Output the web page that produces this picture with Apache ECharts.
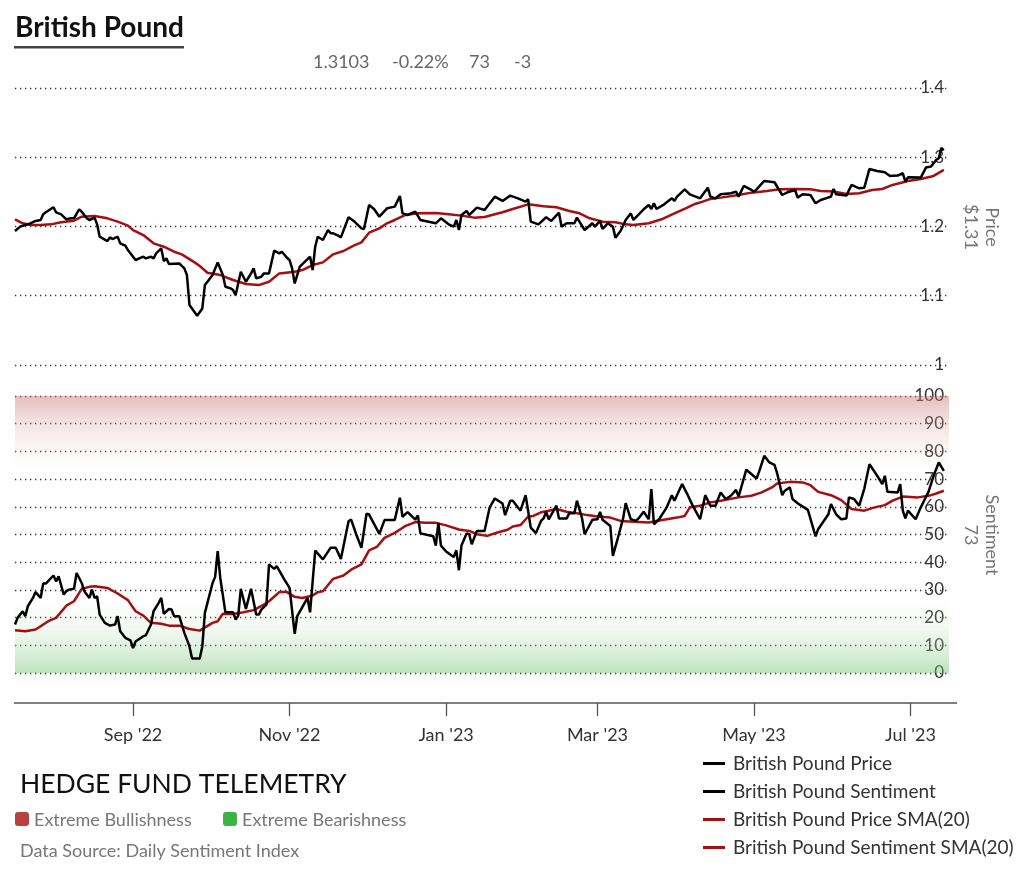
<!DOCTYPE html>
<html><head><meta charset="utf-8">
<script src="https://cdn.jsdelivr.net/npm/echarts@6/dist/echarts.min.js"></script>
<style>html,body{margin:0;padding:0;background:#fff}#c{width:1024px;height:878px}</style>
</head><body><div id="c"></div>
<script>
const titleText = 'British Pound';
const statValues = ['1.3103', '-0.22%', '73', '-3'];
const xTickDates = ['2022-09-01','2022-11-01','2023-01-01','2023-03-01','2023-05-01','2023-07-01'];
const monthNames = ['Jan','Feb','Mar','Apr','May','Jun','Jul','Aug','Sep','Oct','Nov','Dec'];
const seriesNames = ['British Pound Price','British Pound Sentiment','British Pound Price SMA(20)','British Pound Sentiment SMA(20)'];

const pricePrice = [['2022-07-17',1.1935],['2022-07-19',1.1998],['2022-07-21',1.2022],['2022-07-23',1.2046],['2022-07-25',1.2080],['2022-07-27',1.2094],['2022-07-28',1.2176],['2022-07-29',1.2205],['2022-08-01',1.2278],['2022-08-02',1.2205],['2022-08-04',1.2176],['2022-08-06',1.2104],['2022-08-08',1.2118],['2022-08-09',1.2118],['2022-08-11',1.2248],['2022-08-12',1.2214],['2022-08-14',1.2118],['2022-08-15',1.2094],['2022-08-17',1.2128],['2022-08-18',1.2031],['2022-08-19',1.1853],['2022-08-22',1.1790],['2022-08-23',1.1843],['2022-08-24',1.1819],['2022-08-26',1.1853],['2022-08-27',1.1757],['2022-08-29',1.1723],['2022-08-30',1.1660],['2022-09-01',1.1564],['2022-09-02',1.1516],['2022-09-05',1.1564],['2022-09-06',1.1540],['2022-09-08',1.1564],['2022-09-09',1.1540],['2022-09-10',1.1612],['2022-09-12',1.1684],['2022-09-13',1.1501],['2022-09-14',1.1540],['2022-09-15',1.1458],['2022-09-19',1.1467],['2022-09-21',1.1395],['2022-09-22',1.1299],['2022-09-23',1.0865],['2022-09-26',1.0711],['2022-09-28',1.0817],['2022-09-29',1.1154],['2022-09-30',1.1202],['2022-10-02',1.1299],['2022-10-04',1.1482],['2022-10-06',1.1299],['2022-10-07',1.1130],['2022-10-09',1.1106],['2022-10-10',1.1082],['2022-10-11',1.1010],['2022-10-13',1.1347],['2022-10-15',1.1202],['2022-10-17',1.1323],['2022-10-18',1.1395],['2022-10-19',1.1251],['2022-10-21',1.1275],['2022-10-22',1.1323],['2022-10-24',1.1323],['2022-10-26',1.1651],['2022-10-28',1.1612],['2022-10-29',1.1636],['2022-10-31',1.1549],['2022-11-01',1.1516],['2022-11-02',1.1395],['2022-11-03',1.1178],['2022-11-05',1.1419],['2022-11-07',1.1492],['2022-11-09',1.1564],['2022-11-10',1.1371],['2022-11-11',1.1708],['2022-11-12',1.1853],['2022-11-14',1.1805],['2022-11-16',1.1949],['2022-11-17',1.1901],['2022-11-18',1.1901],['2022-11-20',1.1867],['2022-11-21',1.1843],['2022-11-24',1.2133],['2022-11-26',1.2080],['2022-11-29',1.1973],['2022-11-30',1.1964],['2022-12-02',1.2311],['2022-12-04',1.2248],['2022-12-06',1.2142],['2022-12-09',1.2263],['2022-12-12',1.2287],['2022-12-14',1.2441],['2022-12-15',1.2190],['2022-12-17',1.2166],['2022-12-20',1.2214],['2022-12-22',1.2094],['2022-12-28',1.2046],['2022-12-30',1.2118],['2023-01-02',1.2031],['2023-01-04',1.1998],['2023-01-05',1.2094],['2023-01-06',1.1949],['2023-01-07',1.2166],['2023-01-09',1.2224],['2023-01-10',1.2166],['2023-01-13',1.2272],['2023-01-16',1.2239],['2023-01-20',1.2431],['2023-01-23',1.2369],['2023-01-26',1.2446],['2023-01-29',1.2407],['2023-02-01',1.2359],['2023-02-02',1.2393],['2023-02-03',1.2070],['2023-02-06',1.2031],['2023-02-09',1.2133],['2023-02-11',1.2080],['2023-02-14',1.2200],['2023-02-15',1.1998],['2023-02-17',1.2046],['2023-02-20',1.2046],['2023-02-21',1.2128],['2023-02-24',1.1949],['2023-02-27',1.2046],['2023-02-28',1.1998],['2023-03-02',1.2080],['2023-03-03',1.1964],['2023-03-05',1.2046],['2023-03-07',1.1998],['2023-03-08',1.1839],['2023-03-10',1.1935],['2023-03-12',1.2094],['2023-03-14',1.2190],['2023-03-15',1.2094],['2023-03-19',1.2248],['2023-03-21',1.2311],['2023-03-22',1.2253],['2023-03-23',1.2335],['2023-03-24',1.2253],['2023-03-27',1.2320],['2023-03-30',1.2407],['2023-03-31',1.2369],['2023-04-01',1.2431],['2023-04-04',1.2537],['2023-04-06',1.2465],['2023-04-10',1.2407],['2023-04-13',1.2561],['2023-04-14',1.2431],['2023-04-16',1.2407],['2023-04-18',1.2465],['2023-04-22',1.2480],['2023-04-24',1.2504],['2023-04-25',1.2431],['2023-04-27',1.2586],['2023-04-30',1.2528],['2023-05-01',1.2504],['2023-05-02',1.2537],['2023-05-05',1.2658],['2023-05-09',1.2639],['2023-05-12',1.2455],['2023-05-14',1.2494],['2023-05-17',1.2528],['2023-05-18',1.2417],['2023-05-20',1.2465],['2023-05-23',1.2455],['2023-05-25',1.2335],['2023-05-27',1.2383],['2023-05-31',1.2431],['2023-06-01',1.2542],['2023-06-02',1.2465],['2023-06-06',1.2446],['2023-06-08',1.2600],['2023-06-11',1.2552],['2023-06-13',1.2561],['2023-06-15',1.2831],['2023-06-18',1.2802],['2023-06-21',1.2783],['2023-06-23',1.2730],['2023-06-26',1.2735],['2023-06-28',1.2769],['2023-06-29',1.2648],['2023-06-30',1.2711],['2023-07-05',1.2706],['2023-07-07',1.2851],['2023-07-09',1.2865],['2023-07-11',1.2961],['2023-07-12',1.2986],['2023-07-13',1.3132],['2023-07-14',1.3103]];

const priceSma = [['2022-07-17',1.2104],['2022-07-20',1.2046],['2022-07-23',1.2022],['2022-07-27',1.2022],['2022-07-31',1.2031],['2022-08-04',1.2060],['2022-08-09',1.2084],['2022-08-12',1.2142],['2022-08-17',1.2152],['2022-08-22',1.2118],['2022-08-26',1.2070],['2022-08-30',1.2012],['2022-09-01',1.1949],['2022-09-05',1.1877],['2022-09-09',1.1757],['2022-09-13',1.1708],['2022-09-17',1.1636],['2022-09-20',1.1598],['2022-09-25',1.1482],['2022-09-27',1.1429],['2022-09-30',1.1333],['2022-10-05',1.1299],['2022-10-10',1.1227],['2022-10-15',1.1169],['2022-10-20',1.1154],['2022-10-24',1.1202],['2022-10-28',1.1323],['2022-11-03',1.1347],['2022-11-06',1.1371],['2022-11-10',1.1443],['2022-11-14',1.1482],['2022-11-18',1.1598],['2022-11-22',1.1646],['2022-11-26',1.1723],['2022-11-29',1.1771],['2022-12-02',1.1911],['2022-12-06',1.1973],['2022-12-09',1.2046],['2022-12-12',1.2094],['2022-12-16',1.2166],['2022-12-21',1.2190],['2022-12-28',1.2195],['2023-01-02',1.2176],['2023-01-07',1.2157],['2023-01-12',1.2128],['2023-01-16',1.2137],['2023-01-20',1.2176],['2023-01-23',1.2205],['2023-01-27',1.2253],['2023-02-02',1.2320],['2023-02-08',1.2292],['2023-02-13',1.2277],['2023-02-18',1.2224],['2023-02-22',1.2190],['2023-02-26',1.2118],['2023-03-03',1.2070],['2023-03-08',1.2060],['2023-03-12',1.2031],['2023-03-15',1.2022],['2023-03-21',1.2046],['2023-03-26',1.2104],['2023-03-31',1.2190],['2023-04-05',1.2272],['2023-04-08',1.2325],['2023-04-11',1.2359],['2023-04-14',1.2398],['2023-04-18',1.2417],['2023-04-25',1.2455],['2023-04-30',1.2489],['2023-05-06',1.2513],['2023-05-11',1.2537],['2023-05-17',1.2542],['2023-05-23',1.2537],['2023-05-27',1.2513],['2023-06-01',1.2504],['2023-06-06',1.2470],['2023-06-11',1.2480],['2023-06-16',1.2528],['2023-06-20',1.2542],['2023-06-24',1.2600],['2023-06-30',1.2658],['2023-07-05',1.2687],['2023-07-10',1.2730],['2023-07-14',1.2817]];

const sentiment = [['2022-07-17',17.5],['2022-07-18',19.9],['2022-07-20',22.3],['2022-07-21',20.5],['2022-07-22',24.1],['2022-07-24',27.1],['2022-07-25',29.2],['2022-07-27',27.1],['2022-07-28',32.3],['2022-07-29',32.3],['2022-08-01',35.2],['2022-08-02',33.1],['2022-08-03',34.9],['2022-08-05',28.3],['2022-08-06',29.5],['2022-08-07',30.1],['2022-08-09',30.4],['2022-08-10',36.1],['2022-08-12',32.5],['2022-08-13',29.5],['2022-08-15',27.1],['2022-08-16',30.1],['2022-08-17',27.1],['2022-08-18',27.7],['2022-08-19',21.1],['2022-08-21',18.1],['2022-08-23',17.1],['2022-08-25',17.5],['2022-08-26',20.5],['2022-08-27',15.1],['2022-08-29',12.7],['2022-08-31',11.8],['2022-09-01',9.0],['2022-09-02',11.4],['2022-09-05',13.3],['2022-09-06',13.6],['2022-09-08',17.5],['2022-09-09',22.3],['2022-09-11',25.3],['2022-09-12',27.1],['2022-09-13',21.4],['2022-09-15',23.1],['2022-09-16',22.9],['2022-09-17',20.5],['2022-09-19',20.5],['2022-09-21',14.5],['2022-09-23',9.6],['2022-09-24',5.2],['2022-09-27',5.2],['2022-09-28',9.6],['2022-09-29',21.7],['2022-09-30',25.3],['2022-10-02',32.5],['2022-10-03',34.7],['2022-10-04',44.0],['2022-10-05',34.3],['2022-10-07',21.9],['2022-10-10',21.9],['2022-10-11',19.3],['2022-10-12',20.7],['2022-10-13',30.4],['2022-10-15',23.1],['2022-10-17',30.4],['2022-10-19',21.1],['2022-10-20',21.1],['2022-10-21',22.9],['2022-10-23',24.7],['2022-10-24',39.2],['2022-10-26',37.6],['2022-10-27',38.6],['2022-10-30',33.7],['2022-11-01',30.7],['2022-11-03',14.1],['2022-11-04',20.5],['2022-11-08',27.1],['2022-11-09',21.9],['2022-11-11',44.2],['2022-11-14',41.0],['2022-11-17',45.2],['2022-11-19',45.2],['2022-11-21',41.2],['2022-11-24',54.8],['2022-11-25',55.4],['2022-11-27',50.0],['2022-11-29',45.2],['2022-12-01',57.5],['2022-12-02',57.2],['2022-12-06',50.2],['2022-12-08',55.2],['2022-12-12',55.2],['2022-12-13',59.3],['2022-12-14',63.3],['2022-12-15',56.4],['2022-12-17',58.1],['2022-12-20',55.4],['2022-12-21',56.9],['2022-12-22',50.4],['2022-12-27',49.4],['2022-12-28',46.0],['2022-12-29',54.2],['2022-12-30',46.0],['2023-01-01',43.9],['2023-01-04',41.9],['2023-01-05',44.3],['2023-01-06',37.1],['2023-01-07',46.0],['2023-01-09',50.4],['2023-01-10',50.1],['2023-01-11',46.5],['2023-01-13',51.3],['2023-01-16',51.3],['2023-01-18',59.8],['2023-01-20',63.0],['2023-01-23',61.2],['2023-01-24',57.0],['2023-01-26',62.2],['2023-01-27',62.2],['2023-01-30',58.6],['2023-02-01',64.2],['2023-02-03',52.5],['2023-02-05',50.5],['2023-02-07',54.9],['2023-02-08',55.8],['2023-02-09',58.2],['2023-02-10',55.5],['2023-02-13',60.4],['2023-02-14',55.8],['2023-02-17',55.8],['2023-02-18',57.7],['2023-02-20',57.7],['2023-02-21',62.2],['2023-02-23',55.8],['2023-02-24',50.1],['2023-02-27',55.3],['2023-03-01',55.5],['2023-03-02',58.2],['2023-03-03',55.3],['2023-03-06',53.1],['2023-03-07',42.3],['2023-03-09',48.9],['2023-03-11',55.8],['2023-03-12',61.3],['2023-03-14',55.5],['2023-03-16',54.9],['2023-03-17',55.8],['2023-03-19',58.2],['2023-03-21',55.5],['2023-03-22',66.4],['2023-03-23',53.7],['2023-03-25',55.5],['2023-03-28',59.8],['2023-03-30',64.2],['2023-03-31',62.2],['2023-04-03',68.2],['2023-04-05',64.6],['2023-04-07',60.6],['2023-04-10',55.5],['2023-04-12',64.2],['2023-04-14',60.4],['2023-04-16',60.4],['2023-04-18',65.2],['2023-04-20',62.8],['2023-04-22',64.0],['2023-04-24',66.1],['2023-04-25',63.7],['2023-04-28',73.4],['2023-05-02',70.2],['2023-05-03',72.7],['2023-05-05',78.4],['2023-05-07',76.0],['2023-05-09',75.1],['2023-05-10',72.2],['2023-05-12',64.2],['2023-05-13',65.8],['2023-05-15',67.0],['2023-05-16',62.8],['2023-05-18',61.3],['2023-05-22',58.9],['2023-05-25',49.3],['2023-05-26',51.9],['2023-05-30',57.3],['2023-05-31',61.0],['2023-06-02',57.3],['2023-06-04',55.5],['2023-06-06',55.8],['2023-06-07',63.4],['2023-06-09',62.8],['2023-06-11',60.4],['2023-06-13',66.6],['2023-06-15',75.4],['2023-06-18',71.2],['2023-06-20',68.2],['2023-06-21',71.2],['2023-06-22',65.4],['2023-06-26',65.2],['2023-06-27',68.2],['2023-06-28',58.6],['2023-06-29',55.8],['2023-06-30',58.6],['2023-07-03',55.5],['2023-07-05',59.8],['2023-07-08',65.4],['2023-07-10',71.2],['2023-07-12',76.0],['2023-07-14',73]];

const sentimentSma = [['2022-07-17',15.4],['2022-07-21',15.1],['2022-07-25',15.7],['2022-07-30',18.7],['2022-08-02',19.9],['2022-08-06',24.3],['2022-08-09',25.9],['2022-08-12',30.4],['2022-08-15',31.1],['2022-08-17',31.3],['2022-08-22',30.7],['2022-08-26',28.7],['2022-08-30',26.3],['2022-09-02',22.3],['2022-09-05',20.7],['2022-09-08',18.1],['2022-09-12',17.8],['2022-09-15',17.1],['2022-09-19',17.1],['2022-09-23',15.9],['2022-09-27',15.3],['2022-10-02',18.1],['2022-10-04',18.7],['2022-10-06',21.4],['2022-10-10',21.3],['2022-10-14',21.9],['2022-10-18',22.7],['2022-10-22',24.7],['2022-10-24',25.9],['2022-10-28',29.2],['2022-10-31',29.2],['2022-11-03',27.5],['2022-11-06',27.1],['2022-11-10',28.0],['2022-11-12',29.2],['2022-11-14',29.5],['2022-11-18',34.0],['2022-11-22',35.2],['2022-11-25',37.3],['2022-11-29',39.2],['2022-12-02',44.3],['2022-12-05',45.5],['2022-12-08',48.8],['2022-12-12',50.6],['2022-12-16',53.0],['2022-12-20',54.5],['2022-12-24',54.2],['2022-12-28',54.2],['2023-01-01',53.3],['2023-01-06',51.8],['2023-01-10',51.3],['2023-01-13',50.1],['2023-01-17',49.5],['2023-01-21',50.7],['2023-01-25',51.7],['2023-01-27',52.9],['2023-01-30',53.4],['2023-02-02',56.5],['2023-02-04',56.7],['2023-02-07',58.0],['2023-02-10',58.6],['2023-02-13',59.2],['2023-02-17',58.2],['2023-02-21',57.7],['2023-02-25',57.0],['2023-03-01',56.5],['2023-03-06',56.1],['2023-03-10',54.9],['2023-03-15',54.6],['2023-03-21',54.3],['2023-03-24',54.9],['2023-03-28',55.5],['2023-04-01',56.1],['2023-04-04',56.7],['2023-04-06',59.8],['2023-04-10',60.4],['2023-04-14',61.6],['2023-04-18',62.2],['2023-04-25',63.4],['2023-04-30',64.0],['2023-05-04',65.2],['2023-05-08',67.0],['2023-05-10',68.4],['2023-05-15',69.0],['2023-05-20',68.8],['2023-05-23',67.8],['2023-05-26',65.4],['2023-05-31',64.2],['2023-06-04',62.4],['2023-06-08',59.2],['2023-06-13',58.6],['2023-06-17',59.8],['2023-06-21',60.6],['2023-06-24',62.2],['2023-06-28',63.7],['2023-07-04',63.4],['2023-07-09',64.2],['2023-07-11',64.8],['2023-07-14',65.8]];

function toTime(s){ const p = s.split('-').map(Number); return Date.UTC(p[0], p[1]-1, p[2]); }
const toPts = arr => arr.map(([d, v]) => [toTime(d), v]);
const xMin = toTime('2022-07-17'), xMax = toTime('2023-07-16');
const tickTimes = xTickDates.map(toTime);
const fmt = v => { const d = new Date(v); return monthNames[d.getUTCMonth()] + " '" + String(d.getUTCFullYear()).slice(2); };

const FONT = 'Lato';
const BLACK = '#000000', RED = '#a50f0f';
const gridDot = { color: '#333', width: 1.3, type: [1.3, 3.7] };

const chart = echarts.init(document.getElementById('c'), null, { renderer: 'canvas' });
chart.setOption({
  animation: false,
  textStyle: { fontFamily: FONT },
  grid: [
    { left: 15, right: 75, top: 88, height: 277 },
    { left: 15, right: 75, top: 396, height: 277 },
    { left: 15, right: 75, top: 673, height: 30 }
  ],
  xAxis: [
    { type: 'value', gridIndex: 0, min: xMin, max: xMax, show: false },
    { type: 'value', gridIndex: 1, min: xMin, max: xMax, show: false },
    { type: 'value', gridIndex: 2, min: xMin, max: xMax, position: 'bottom',
      axisLine: { show: false, onZero: false },
      axisTick: { show: true, length: 13, lineStyle: { color: '#555', width: 1.3 }, customValues: tickTimes },
      axisLabel: { customValues: tickTimes, formatter: fmt, fontSize: 18, color: '#333', fontFamily: FONT, margin: 23 },
      splitLine: { show: false } }
  ],
  yAxis: [
    { type: 'value', gridIndex: 0, position: 'right', min: 1, max: 1.4, interval: 0.1,
      axisLine: { show: false }, axisTick: { show: false },
      axisLabel: { inside: true, margin: 5, fontSize: 17, color: '#333', fontFamily: FONT },
      splitLine: { lineStyle: gridDot } },
    { type: 'value', gridIndex: 1, position: 'right', min: 0, max: 100, interval: 10,
      axisLine: { show: false }, axisTick: { show: false },
      axisLabel: { inside: true, margin: 5, fontSize: 17, color: '#333', fontFamily: FONT },
      splitLine: { lineStyle: gridDot } },
    { type: 'value', gridIndex: 2, min: 0, max: 1, show: false }
  ],
  legend: {
    orient: 'vertical', left: 703, top: 754, padding: 0, icon: 'rect', itemWidth: 22, itemHeight: 3, itemGap: 9,
    textStyle: { fontSize: 19, color: '#333', fontFamily: FONT, padding: [0, 0, 0, 3] },
    data: seriesNames
  },
  series: [
    { name: seriesNames[0], type: 'line', xAxisIndex: 0, yAxisIndex: 0, data: toPts(pricePrice), showSymbol: false,
      color: BLACK, lineStyle: { color: BLACK, width: 2.5 }, z: 4 },
    { name: seriesNames[1], type: 'line', xAxisIndex: 1, yAxisIndex: 1, data: toPts(sentiment), showSymbol: false,
      color: BLACK, lineStyle: { color: BLACK, width: 2.5 }, z: 4,
      markArea: { silent: true, data: [
        [ { yAxis: 70, itemStyle: { color: { type: 'linear', x: 0, y: 0, x2: 0, y2: 1, colorStops: [
            { offset: 0, color: 'rgba(200,110,110,0.45)' }, { offset: 1, color: 'rgba(255,255,255,0)' } ] } } }, { yAxis: 100 } ],
        [ { yAxis: 0, itemStyle: { color: { type: 'linear', x: 0, y: 0, x2: 0, y2: 1, colorStops: [
            { offset: 0, color: 'rgba(255,255,255,0)' }, { offset: 1, color: 'rgba(110,190,110,0.45)' } ] } } }, { yAxis: 30 } ]
      ] } },
    { name: seriesNames[2], type: 'line', xAxisIndex: 0, yAxisIndex: 0, data: toPts(priceSma), showSymbol: false,
      color: RED, lineStyle: { color: RED, width: 2.5 }, z: 3 },
    { name: seriesNames[3], type: 'line', xAxisIndex: 1, yAxisIndex: 1, data: toPts(sentimentSma), showSymbol: false,
      color: RED, lineStyle: { color: RED, width: 2.5 }, z: 3 }
  ],
  graphic: [
    { type: 'text', x: 15, y: 28, style: { text: titleText, font: 'bold 28px Lato', fill: '#111', textVerticalAlign: 'middle' } },
    { type: 'rect', shape: { x: 14, y: 46, width: 170, height: 2.5 }, style: { fill: '#444' } },
    { type: 'text', x: 313, y: 62, style: { text: statValues[0], font: '18px Lato', fill: '#666', textVerticalAlign: 'middle' } },
    { type: 'text', x: 392, y: 62, style: { text: statValues[1], font: '18px Lato', fill: '#666', textVerticalAlign: 'middle' } },
    { type: 'text', x: 469, y: 62, style: { text: statValues[2], font: '18px Lato', fill: '#666', textVerticalAlign: 'middle' } },
    { type: 'text', x: 514, y: 62, style: { text: statValues[3], font: '18px Lato', fill: '#666', textVerticalAlign: 'middle' } },
    { type: 'text', x: 981, y: 227, rotation: -Math.PI / 2, style: { text: 'Price\n$' + statValues[0].slice(0, 4), font: '18px Lato', fill: '#777', textAlign: 'center', textVerticalAlign: 'middle', lineHeight: 21 } },
    { type: 'text', x: 981, y: 535, rotation: -Math.PI / 2, style: { text: 'Sentiment\n' + statValues[2], font: '18px Lato', fill: '#777', textAlign: 'center', textVerticalAlign: 'middle', lineHeight: 21 } },
    { type: 'line', shape: { x1: 14, y1: 703, x2: 957, y2: 703 }, style: { stroke: '#555', lineWidth: 1.5 } },
    { type: 'text', x: 20, y: 784, style: { text: 'HEDGE FUND TELEMETRY', font: '26.5px Lato', fill: '#111', textVerticalAlign: 'middle' } },
    { type: 'rect', shape: { x: 15, y: 812, width: 14, height: 14, r: 3 }, style: { fill: '#b94141' } },
    { type: 'text', x: 34, y: 820, style: { text: 'Extreme Bullishness', font: '18px Lato', fill: '#777', textVerticalAlign: 'middle' } },
    { type: 'rect', shape: { x: 223, y: 812, width: 14, height: 14, r: 3 }, style: { fill: '#3db341' } },
    { type: 'text', x: 242, y: 820, style: { text: 'Extreme Bearishness', font: '18px Lato', fill: '#777', textVerticalAlign: 'middle' } },
    { type: 'text', x: 20, y: 851, style: { text: 'Data Source: Daily Sentiment Index', font: '18px Lato', fill: '#777', textVerticalAlign: 'middle' } }
  ]
});
</script></body></html>
